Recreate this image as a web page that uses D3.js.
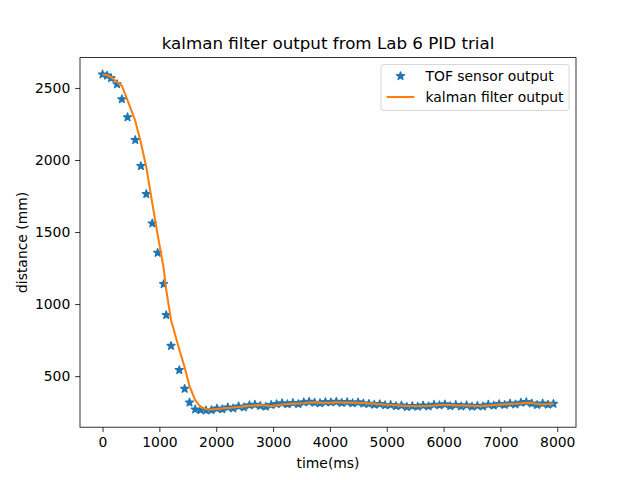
<!DOCTYPE html>
<html>
<head>
<meta charset="utf-8">
<script src="https://cdn.jsdelivr.net/npm/d3@7"></script>
<style>
  html, body { margin: 0; padding: 0; background: #fff; }
  svg { display: block; font-family: "DejaVu Sans", sans-serif; }
</style>
</head>
<body>
<svg id="chart" width="640" height="480"></svg>
<script>
// ---- data ----
const times = [0, 80, 150, 255, 340, 440, 575, 675, 770, 875, 970, 1075, 1120, 1205, 1350, 1445, 1530, 1630,
  1725, 1821, 1916, 2012, 2107, 2203, 2298, 2394, 2489, 2585, 2680, 2776, 2871, 2967, 3062, 3158, 3253, 3349,
  3444, 3540, 3635, 3731, 3826, 3922, 4017, 4113, 4208, 4304, 4399, 4495, 4590, 4686, 4781, 4877, 4972, 5068,
  5163, 5259, 5354, 5450, 5545, 5641, 5736, 5832, 5927, 6023, 6118, 6214, 6309, 6405, 6500, 6596, 6691, 6787,
  6882, 6978, 7073, 7169, 7264, 7360, 7455, 7551, 7646, 7742, 7837, 7933];

const sensorOutput = [2594, 2586, 2568, 2526, 2422, 2297, 2139, 1958, 1764, 1560, 1356, 1139, 924, 710, 542, 412, 317, 269,
  265, 262, 264, 275, 270, 283, 276, 290, 284, 298, 302, 294, 288, 300, 306, 312, 305, 314,
  306, 318, 322, 316, 312, 320, 318, 322, 314, 320, 312, 318, 310, 308, 302, 306, 298, 300,
  292, 296, 286, 292, 288, 296, 290, 302, 298, 304, 292, 300, 290, 298, 288, 294, 290, 302,
  296, 306, 300, 310, 304, 316, 320, 310, 300, 310, 302, 308];

const kalmanOutput = [2594, 2588, 2575, 2540, 2514, 2414, 2273, 2120, 1950, 1700, 1480, 1250, 1100, 890, 685, 560, 430, 333,
  285, 272, 268, 272, 276, 279, 282, 286, 290, 294, 297, 299, 296, 293, 297, 303, 307, 309,
  310, 312, 317, 318, 316, 315, 316, 318, 317, 316, 316, 315, 313, 311, 308, 305, 302, 301,
  298, 295, 293, 292, 291, 292, 293, 296, 299, 300, 299, 297, 296, 295, 294, 292, 293, 296,
  299, 302, 304, 306, 308, 311, 315, 314, 306, 304, 306, 309];

const xTicks = [0, 1000, 2000, 3000, 4000, 5000, 6000, 7000, 8000];
const yTicks = [500, 1000, 1500, 2000, 2500];
const seriesNames = ["TOF sensor output", "kalman filter output"];
const titleText = "kalman filter output from Lab 6 PID trial";
const xLabel = "time(ms)";
const yLabel = "distance (mm)";

// ---- layout ----
const W = 640, H = 480;
const L = 80, R = 576, T = 57.6, B = 427.2;
const blue = "#1f77b4", orange = "#ff7f0e";
const fs = 13.9;

const svg = d3.select("#chart");

function padExtent(ext) {
  const span = ext[1] - ext[0];
  return [ext[0] - 0.05 * span, ext[1] + 0.05 * span];
}
const xDom = padExtent(d3.extent(times));
const yDom = padExtent(d3.extent(sensorOutput.concat(kalmanOutput)));

const x = d3.scaleLinear().domain(xDom).range([L, R]);
const y = d3.scaleLinear().domain(yDom).range([B, T]);

const pts = times.map((t, i) => ({t, s: sensorOutput[i], k: kalmanOutput[i]}));

// star path (matplotlib "*" marker)
function starPath(r) {
  const ri = r * 0.381966;
  const p = [];
  for (let i = 0; i < 10; i++) {
    const a = -Math.PI / 2 + i * Math.PI / 5;
    const rr = i % 2 === 0 ? r : ri;
    p.push([rr * Math.cos(a), rr * Math.sin(a)]);
  }
  return "M" + p.map(d => d[0].toFixed(3) + "," + d[1].toFixed(3)).join("L") + "Z";
}
const star = starPath(4.17);

svg.append("defs").append("clipPath").attr("id", "clip")
  .append("rect").attr("x", L).attr("y", T).attr("width", R - L).attr("height", B - T);

const plot = svg.append("g").attr("clip-path", "url(#clip)");

plot.selectAll("path.star").data(pts).enter().append("path")
  .attr("class", "star")
  .attr("d", star)
  .attr("transform", d => `translate(${x(d.t)},${y(d.s)})`)
  .attr("fill", blue).attr("stroke", blue).attr("stroke-width", 1.39)
  .attr("stroke-linejoin", "round");

const line = d3.line().x(d => x(d.t)).y(d => y(d.k));
plot.append("path").datum(pts).attr("d", line)
  .attr("fill", "none").attr("stroke", orange).attr("stroke-width", 2.08)
  .attr("stroke-linejoin", "round").attr("stroke-linecap", "butt");

// axes
const xAxis = d3.axisBottom(x).tickValues(xTicks).tickSize(4.86).tickPadding(4.86).tickFormat(d3.format("d"));
const yAxis = d3.axisLeft(y).tickValues(yTicks).tickSize(4.86).tickPadding(4.86).tickFormat(d3.format("d"));

const gx = svg.append("g").attr("transform", `translate(0,${B})`).call(xAxis);
const gy = svg.append("g").attr("transform", `translate(${L},0)`).call(yAxis);
[gx, gy].forEach(g => {
  g.select(".domain").remove();
  g.selectAll(".tick line").attr("stroke", "#000").attr("stroke-width", 0.8);
  g.selectAll(".tick text").attr("fill", "#000").attr("font-size", fs)
    .attr("font-family", "DejaVu Sans, sans-serif");
});

// frame
svg.append("rect").attr("x", L).attr("y", T).attr("width", R - L).attr("height", B - T)
  .attr("fill", "none").attr("stroke", "#000").attr("stroke-width", 0.8);

// labels
svg.append("text").attr("x", (L + R) / 2).attr("y", 49)
  .attr("text-anchor", "middle").attr("font-size", 16.7).text(titleText);
svg.append("text").attr("x", (L + R) / 2).attr("y", 468)
  .attr("text-anchor", "middle").attr("font-size", fs).text(xLabel);
svg.append("text").attr("transform", `translate(27,${(T + B) / 2}) rotate(-90)`)
  .attr("text-anchor", "middle").attr("font-size", fs).text(yLabel);

// legend
const lgW = 188, lgH = 46;
const lgX = R - 6.94 - lgW, lgY = T + 6.94;
const lg = svg.append("g");
lg.append("rect").attr("x", lgX).attr("y", lgY).attr("width", lgW).attr("height", lgH)
  .attr("rx", 2.8).attr("fill", "#fff").attr("fill-opacity", 0.8)
  .attr("stroke", "#cccccc").attr("stroke-width", 0.8);
const hx0 = lgX + 5.56, hx1 = hx0 + 27.8, tx = hx1 + 11.1;
const row1 = lgY + 11.5, row2 = lgY + 32.5;
lg.append("path").attr("d", star).attr("transform", `translate(${(hx0 + hx1) / 2},${row1})`)
  .attr("fill", blue).attr("stroke", blue).attr("stroke-width", 1.39).attr("stroke-linejoin", "round");
lg.append("line").attr("x1", hx0).attr("x2", hx1).attr("y1", row2).attr("y2", row2)
  .attr("stroke", orange).attr("stroke-width", 2.08);
lg.append("text").attr("x", tx).attr("y", row1).attr("dy", "0.35em").attr("font-size", fs).text(seriesNames[0]);
lg.append("text").attr("x", tx).attr("y", row2).attr("dy", "0.35em").attr("font-size", fs).text(seriesNames[1]);
</script>
</body>
</html>
